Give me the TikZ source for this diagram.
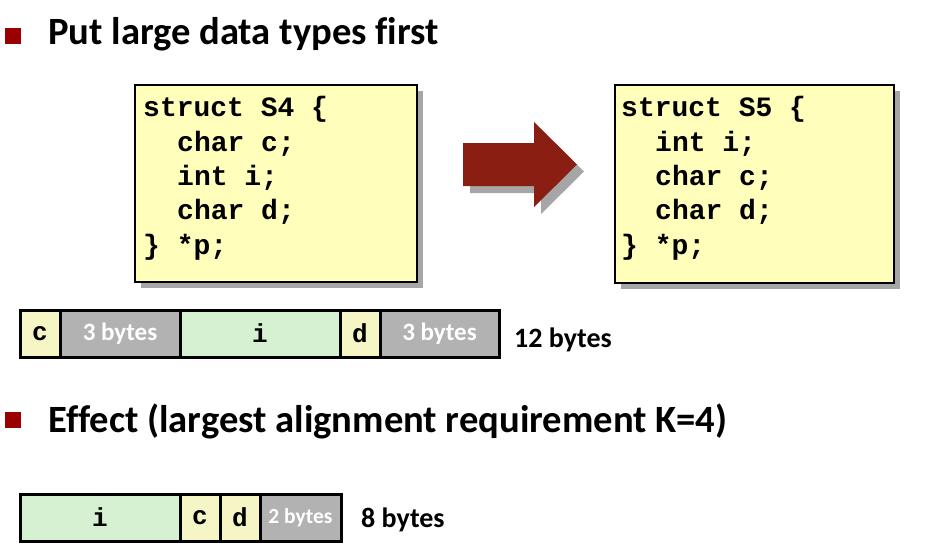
\documentclass[tikz,border=0pt]{standalone}
\usepackage{fontspec}
\setmainfont{Carlito}[Ligatures=NoCommon]
\newfontfamily\codefont{Liberation Mono}
\definecolor{bulletred}{RGB}{153,0,0}
\definecolor{codefill}{RGB}{255,255,187}
\definecolor{shadowgray}{RGB}{166,166,166}
\definecolor{arrowred}{RGB}{138,30,18}
\definecolor{cellyellow}{RGB}{245,245,197}
\definecolor{cellgreen}{RGB}{214,240,210}
\definecolor{cellgray}{RGB}{178,178,178}
\tikzset{
  bulletsq/.style={fill=bulletred, draw=none},
  heading/.style={anchor=base west, inner sep=0pt, font=\fontsize{38.6}{44}\selectfont\bfseries},
  codeline/.style={anchor=base west, inner sep=0pt, font=\codefont\bfseries\fontsize{28}{34}\selectfont},
  codebox/.style={fill=codefill, draw=black, line width=2pt},
  shadowbox/.style={fill=shadowgray, draw=none},
  cell/.style={draw=black, line width=3pt},
  celltxt/.style={inner sep=0pt, font=\codefont\bfseries\fontsize{26}{30}\selectfont},
  padtxt/.style={inner sep=0pt, text=white, font=\bfseries\fontsize{25}{30}\selectfont},
  sizetxt/.style={anchor=base west, inner sep=0pt, font=\bfseries\fontsize{28}{32}\selectfont},
}
\begin{document}
\begin{tikzpicture}[x=1pt,y=-1pt]
\useasboundingbox (0,0) rectangle (940,551);
% bullets and headings
\fill[bulletsq] (5,28) rectangle (21,44);
\node[heading] (h1) at (48,45) {Put large data types first};
\fill[bulletsq] (5,412) rectangle (21,428);
\node[heading] (h2) at (48,432) {Effect (largest alignment requirement K=4)};
% S4 box
\fill[shadowbox] (141,91) rectangle (423,288);
\draw[codebox] (135,85) rectangle (417,282);
\node[codeline] (a1) at (143,117) {struct S4 \{};
\node[codeline] (a2) at (177,151.3) {char c;};
\node[codeline] (a3) at (177,185.6) {int i;};
\node[codeline] (a4) at (177,219.9) {char d;};
\node[codeline] (a5) at (143,254.2) {\} *p;};
% S5 box
\fill[shadowbox] (621,91) rectangle (900,289);
\draw[codebox] (615,85) rectangle (894,283);
\node[codeline] (b1) at (621,117) {struct S5 \{};
\node[codeline] (b2) at (655,151.3) {int i;};
\node[codeline] (b3) at (655,185.6) {char c;};
\node[codeline] (b4) at (655,219.9) {char d;};
\node[codeline] (b5) at (621,254.2) {\} *p;};
% arrow
\fill[shadowgray] (470,150) -- (541,150) -- (541,129) -- (584,171.5) -- (541,214) -- (541,193) -- (470,193) -- cycle;
\fill[arrowred] (463,143) -- (534,143) -- (534,122) -- (577,164.5) -- (534,207) -- (534,186) -- (463,186) -- cycle;
% bar 1
\draw[cell, fill=cellyellow] (20,310) rectangle (60,357);
\draw[cell, fill=cellgray] (60,310) rectangle (180,357);
\draw[cell, fill=cellgreen] (180,310) rectangle (340,357);
\draw[cell, fill=cellyellow] (340,310) rectangle (380,357);
\draw[cell, fill=cellgray] (380,310) rectangle (499,357);
\node[celltxt] (c1) at (40,333.5) {c};
\node[padtxt] (p1) at (120,333.5) {3 bytes};
\node[celltxt] (i1) at (260,333.5) {i};
\node[celltxt] (d1) at (360,333.5) {d};
\node[padtxt] (p2) at (439.5,333.5) {3 bytes};
\node[sizetxt] (s1) at (514,347) {12 bytes};
% bar 2
\draw[cell, fill=cellgreen] (20,494) rectangle (180,541);
\draw[cell, fill=cellyellow] (180,494) rectangle (220,541);
\draw[cell, fill=cellyellow] (220,494) rectangle (260,541);
\draw[cell, fill=cellgray] (260,494) rectangle (341,541);
\node[celltxt] (i2) at (100,517.5) {i};
\node[celltxt] (c2) at (200,517.5) {c};
\node[celltxt] (d2) at (240,517.5) {d};
\node[padtxt, font=\bfseries\fontsize{21.5}{24}\selectfont] (p3) at (300.5,517.5) {2 bytes};
\node[sizetxt] (s2) at (361,527) {8 bytes};
\end{tikzpicture}
\end{document}
